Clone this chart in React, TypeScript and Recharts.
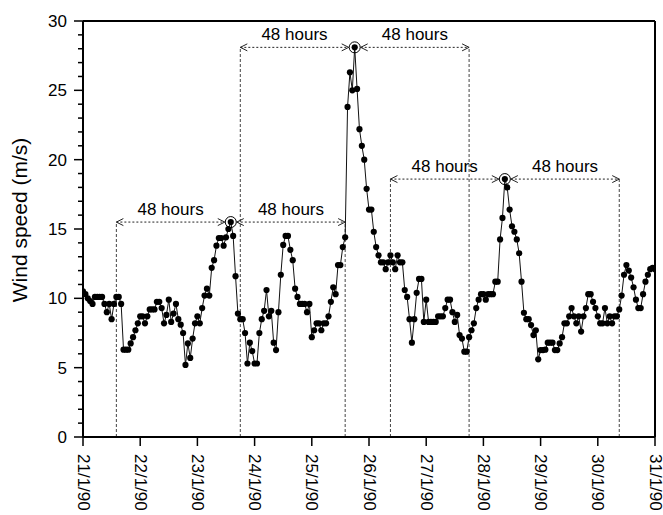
import React from 'react';
import { LineChart, Line, XAxis, YAxis, ReferenceLine, ReferenceDot } from 'recharts';

// hourly wind speed (m/s), 21/1/90 00:00 .. 31/1/90 00:00
const WIND = [
  10.5, 10.3, 10.0, 9.8, 9.6, 10.1, 10.1, 10.1, 10.1, 9.6,
  9.0, 9.6, 8.5, 9.6, 10.1, 10.1, 9.6, 6.3, 6.3, 6.3,
  6.75, 7.2, 7.7, 8.2, 8.7, 8.7, 8.2, 8.7, 9.2, 9.2,
  9.2, 9.75, 9.75, 9.3, 8.2, 8.8, 9.9, 8.3, 8.9, 9.6,
  8.5, 8.1, 7.5, 5.2, 6.75, 5.7, 7.1, 8.2, 8.7, 8.2,
  9.3, 10.2, 10.7, 10.2, 12.2, 12.75, 13.8, 14.35, 14.35, 13.8,
  14.4, 15.0, 15.5, 14.5, 11.6, 8.9, 8.5, 8.5, 7.5, 5.3,
  6.8, 6.2, 5.3, 5.3, 7.5, 8.5, 9.1, 10.6, 8.7, 9.1,
  6.8, 6.27, 9.0, 11.7, 13.85, 14.5, 14.5, 13.5, 12.75, 10.7,
  10.1, 9.6, 9.6, 9.6, 9.0, 9.6, 7.2, 7.7, 8.2, 8.2,
  7.7, 8.2, 8.2, 8.7, 9.75, 10.8, 10.3, 12.4, 12.4, 13.7,
  14.4, 23.8, 26.3, 25.0, 28.1, 25.1, 22.2, 21.0, 20.0, 17.9,
  16.4, 16.4, 14.8, 13.7, 13.1, 12.6, 12.6, 12.1, 12.6, 13.1,
  12.6, 12.1, 13.1, 12.6, 12.6, 10.6, 10.1, 8.5, 6.8, 8.5,
  10.4, 11.4, 11.4, 8.3, 9.9, 8.3, 8.3, 8.3, 8.3, 8.7,
  8.7, 8.7, 9.3, 9.9, 9.9, 9.0, 8.3, 8.8, 7.35, 7.1,
  6.15, 6.15, 7.2, 7.7, 8.2, 9.3, 9.9, 10.3, 10.3, 9.9,
  10.3, 10.3, 10.3, 11.2, 11.2, 14.25, 15.8, 18.6, 18.0, 16.4,
  15.2, 14.8, 14.25, 13.25, 11.2, 8.96, 8.5, 8.5, 8.07, 7.35,
  7.7, 5.6, 6.27, 6.27, 6.3, 6.8, 6.8, 6.8, 6.27, 6.27,
  6.75, 7.2, 8.2, 8.2, 8.7, 9.3, 8.7, 8.2, 8.7, 7.6,
  8.7, 9.3, 10.3, 10.3, 9.75, 9.3, 8.7, 8.2, 8.2, 9.3,
  8.2, 8.7, 8.2, 8.7, 8.7, 9.2, 10.2, 11.7, 12.4, 12.0,
  11.5, 10.8, 9.9, 9.3, 9.3, 10.3, 11.2, 11.7, 12.1, 12.2,
  12.1,
];

const DAY_TICKS = [0, 24, 48, 72, 96, 120, 144, 168, 192, 216, 240];
const DAY_LABELS = ['21/1/90', '22/1/90', '23/1/90', '24/1/90', '25/1/90', '26/1/90', '27/1/90', '28/1/90', '29/1/90', '30/1/90', '31/1/90'];
const Y_TICKS = Array.from({ length: 31 }, (_, i) => i);

const PEAK_HOURS = [62, 114, 177];
const PEAK_SPEEDS = [15.5, 28.1, 18.6];
const WINDOW = 48;

const data = WIND.map((v, i) => ({ t: i, v }));

const FONT = '"Liberation Sans", Arial, sans-serif';

const YTick = (props: any) => {
  const { x, y, payload } = props;
  const major = payload.value % 5 === 0;
  return (
    <g>
      <line x1={x - (major ? 9 : 5)} x2={x} y1={y} y2={y} stroke="#000" strokeWidth={1.5} />
      {major && (
        <text x={x - 16} y={y} dy="0.35em" textAnchor="end" fontSize={17} fontFamily={FONT} fill="#000">
          {payload.value}
        </text>
      )}
    </g>
  );
};

const XTick = (props: any) => {
  const { x, y, payload } = props;
  const label = DAY_LABELS[DAY_TICKS.indexOf(payload.value)];
  return (
    <g>
      <line x1={x} x2={x} y1={y} y2={y + 9} stroke="#000" strokeWidth={1.5} />
      <text
        transform={`translate(${x},${y + 17}) rotate(90)`}
        textAnchor="start"
        dominantBaseline="central"
        fontSize={17}
        fontFamily={FONT}
        fill="#000"
      >
        {label}
      </text>
    </g>
  );
};

const arrowShape = (insetL: number, insetR: number) => (p: any) => {
  const a = Math.min(p.x1, p.x2) + insetL;
  const b = Math.max(p.x1, p.x2) - insetR;
  const y = p.y1;
  return (
    <g>
      <line x1={a} x2={b} y1={y} y2={y} stroke="#222" strokeWidth={1} strokeDasharray="2 2" />
      <path d={`M${a + 7},${y - 3.5} L${a},${y} L${a + 7},${y + 3.5}`} fill="none" stroke="#222" strokeWidth={1} />
      <path d={`M${b - 7},${y - 3.5} L${b},${y} L${b - 7},${y + 3.5}`} fill="none" stroke="#222" strokeWidth={1} />
      <text x={(a + b) / 2} y={y - 7} textAnchor="middle" fontSize={17} fontFamily={FONT} fill="#000">
        48 hours
      </text>
    </g>
  );
};

const YLabel = (props: any) => {
  const vb = props.viewBox || { y: 21, height: 416 };
  const cy = vb.y + vb.height / 2 - 9;
  return (
    <text
      transform={`translate(27,${cy}) rotate(-90)`}
      textAnchor="middle"
      fontSize={21}
      fontFamily={FONT}
      fill="#000"
    >
      Wind speed (m/s)
    </text>
  );
};

export default function App() {
  return (
    <div style={{ position: 'absolute', left: 0, top: 0, background: '#fff' }}>
      <LineChart width={663} height={515} data={data} margin={{ top: 21, right: 8, left: 0, bottom: 0 }}>
        <XAxis
          dataKey="t"
          type="number"
          domain={[0, 240]}
          ticks={DAY_TICKS}
          interval={0}
          height={78}
          tick={<XTick />}
          tickSize={0}
          tickMargin={0}
          tickLine={false}
          axisLine={{ stroke: '#000', strokeWidth: 2 }}
          allowDataOverflow
        />
        <YAxis
          type="number"
          domain={[0, 30]}
          ticks={Y_TICKS}
          interval={0}
          width={83}
          tick={<YTick />}
          tickSize={0}
          tickMargin={0}
          tickLine={false}
          axisLine={{ stroke: '#000', strokeWidth: 2 }}
          label={{ content: <YLabel /> }}
          allowDataOverflow
        />
        <ReferenceLine y={30} stroke="#000" strokeWidth={2} />
        <ReferenceLine x={240} stroke="#000" strokeWidth={2} />
        {PEAK_HOURS.map((h, i) => (
          <ReferenceLine
            key={`vl-${i}`}
            segment={[{ x: h - WINDOW, y: 0 }, { x: h - WINDOW, y: PEAK_SPEEDS[i] }]}
            stroke="#444"
            strokeWidth={1}
            strokeDasharray="3 2"
          />
        ))}
        {PEAK_HOURS.map((h, i) => (
          <ReferenceLine
            key={`vr-${i}`}
            segment={[{ x: h + WINDOW, y: 0 }, { x: h + WINDOW, y: PEAK_SPEEDS[i] }]}
            stroke="#444"
            strokeWidth={1}
            strokeDasharray="3 2"
          />
        ))}
        {PEAK_HOURS.map((h, i) => (
          <ReferenceLine
            key={`al-${i}`}
            segment={[{ x: h - WINDOW, y: PEAK_SPEEDS[i] }, { x: h, y: PEAK_SPEEDS[i] }]}
            shape={arrowShape(0, 6)}
          />
        ))}
        {PEAK_HOURS.map((h, i) => (
          <ReferenceLine
            key={`ar-${i}`}
            segment={[{ x: h, y: PEAK_SPEEDS[i] }, { x: h + WINDOW, y: PEAK_SPEEDS[i] }]}
            shape={arrowShape(6, 0)}
          />
        ))}
        <Line
          type="linear"
          dataKey="v"
          stroke="#111"
          strokeWidth={1}
          dot={{ r: 3.1, fill: '#000', stroke: '#000', strokeWidth: 0 }}
          isAnimationActive={false}
        />
        {PEAK_HOURS.map((h, i) => (
          <ReferenceDot key={`pk-${i}`} x={h} y={PEAK_SPEEDS[i]} r={5.5} fill="none" stroke="#000" strokeWidth={1} />
        ))}
      </LineChart>
    </div>
  );
}
